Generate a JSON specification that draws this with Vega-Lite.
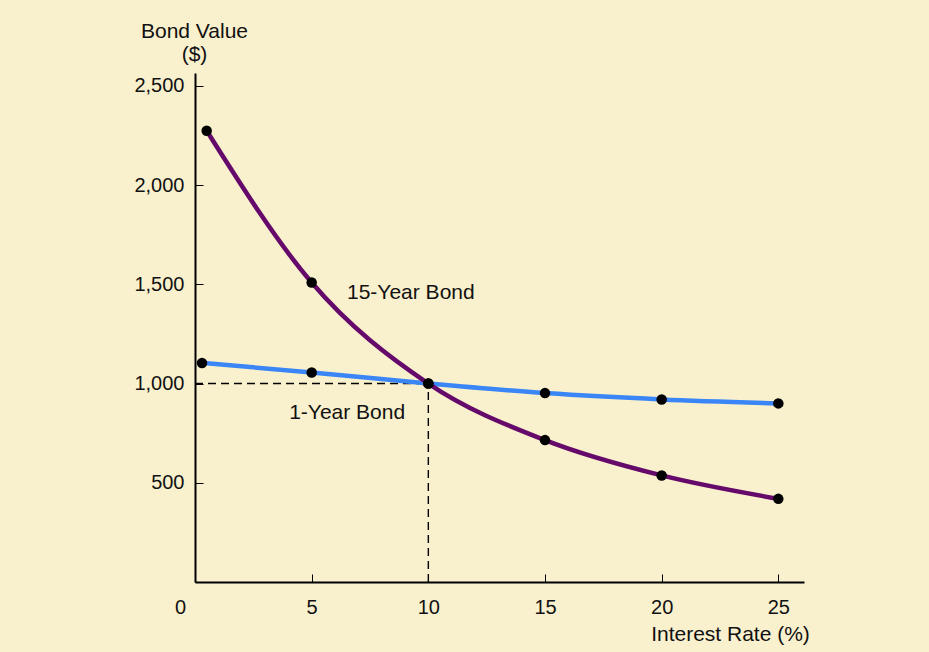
{
  "$schema": "https://vega.github.io/schema/vega-lite/v6.json",
  "width": 609,
  "height": 509,
  "autosize": {"type": "none"},
  "padding": {"left": 195, "top": 73, "right": 125, "bottom": 70},
  "background": "#F9F0CE",
  "config": {
    "view": {"stroke": null},
    "font": "Liberation Sans",
    "axis": {
      "grid": false,
      "domainColor": "#000000",
      "domainWidth": 2,
      "tickColor": "#000000",
      "tickWidth": 1,
      "tickSize": -8,
      "labelFont": "Liberation Sans",
      "labelFontSize": 20,
      "labelColor": "#111111",
      "labelFlush": false,
      "titleFont": "Liberation Sans",
      "titleFontSize": 21,
      "titleFontWeight": "normal",
      "titleColor": "#111111"
    }
  },
  "datasets": {
    "bonds": [
      {"rate": 0.3, "value": 1104, "bond": "1-Year Bond"},
      {"rate": 5, "value": 1056, "bond": "1-Year Bond"},
      {"rate": 10, "value": 1000, "bond": "1-Year Bond"},
      {"rate": 15, "value": 952, "bond": "1-Year Bond"},
      {"rate": 20, "value": 920, "bond": "1-Year Bond"},
      {"rate": 25, "value": 900, "bond": "1-Year Bond"},
      {"rate": 0.5, "value": 2274, "bond": "15-Year Bond"},
      {"rate": 5, "value": 1509, "bond": "15-Year Bond"},
      {"rate": 10, "value": 1000, "bond": "15-Year Bond"},
      {"rate": 15, "value": 715, "bond": "15-Year Bond"},
      {"rate": 20, "value": 537, "bond": "15-Year Bond"},
      {"rate": 25, "value": 419, "bond": "15-Year Bond"}
    ],
    "guides": [
      {"x1": 0, "x2": 10, "y1": 1000, "y2": 1000},
      {"x1": 10, "x2": 10, "y1": 0, "y2": 1000}
    ],
    "labels": [
      {"rate": 9.25, "value": 1454, "text": "15-Year Bond"},
      {"rate": 6.52, "value": 851, "text": "1-Year Bond"}
    ]
  },
  "layer": [
    {
      "data": {"name": "guides"},
      "mark": {"type": "rule", "color": "#000000", "strokeWidth": 1.4, "strokeDash": [8, 5]},
      "encoding": {
        "x": {
          "field": "x1", "type": "quantitative",
          "scale": {"domain": [0, 26.1], "nice": false, "zero": false},
          "axis": {
            "values": [0, 5, 10, 15, 20, 25],
            "labelPadding": 23,
            "labelOffset": {"condition": {"test": "datum.value == 0", "value": -15}, "value": 0},
            "title": "Interest Rate (%)",
            "titleAngle": 0,
            "titleAlign": "center",
            "titleAnchor": null,
            "titleBaseline": "alphabetic",
            "titleX": 535,
            "titleY": 58
          }
        },
        "x2": {"field": "x2"},
        "y": {
          "field": "y1", "type": "quantitative",
          "scale": {"domain": [0, 2565], "nice": false, "zero": false},
          "axis": {
            "values": [500, 1000, 1500, 2000, 2500],
            "format": ",d",
            "labelPadding": 19,
            "title": ["Bond Value", "($)"],
            "titleAngle": 0,
            "titleAlign": "center",
            "titleAnchor": null,
            "titleBaseline": "alphabetic",
            "titleLineHeight": 23.5,
            "titleX": -1,
            "titleY": -36
          }
        },
        "y2": {"field": "y2"}
      }
    },
    {
      "data": {"name": "bonds"},
      "mark": {"type": "line", "interpolate": "monotone", "strokeWidth": 4.5},
      "encoding": {
        "x": {"field": "rate", "type": "quantitative"},
        "y": {"field": "value", "type": "quantitative"},
        "color": {
          "field": "bond", "type": "nominal",
          "scale": {"domain": ["1-Year Bond", "15-Year Bond"], "range": ["#3A86F7", "#650A6A"]},
          "legend": null
        }
      }
    },
    {
      "data": {"name": "bonds"},
      "mark": {"type": "circle", "color": "#000000", "opacity": 1, "size": 110},
      "encoding": {
        "x": {"field": "rate", "type": "quantitative"},
        "y": {"field": "value", "type": "quantitative"}
      }
    },
    {
      "data": {"name": "labels"},
      "mark": {"type": "text", "font": "Liberation Sans", "fontSize": 21, "color": "#111111", "align": "center", "baseline": "middle"},
      "encoding": {
        "x": {"field": "rate", "type": "quantitative"},
        "y": {"field": "value", "type": "quantitative"},
        "text": {"field": "text"}
      }
    }
  ]
}
